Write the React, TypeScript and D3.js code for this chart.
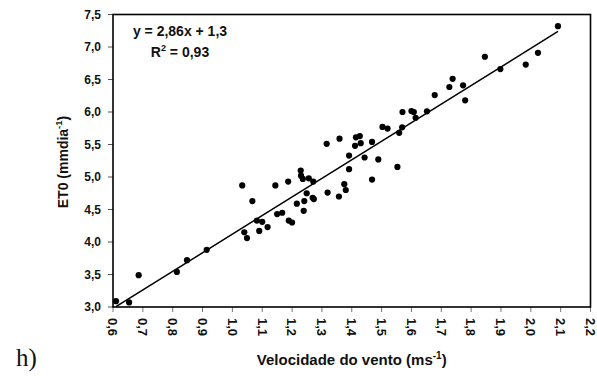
import React from "react";
import * as d3 from "d3";

// Wind speed (m/s) and reference evapotranspiration ET0 (mm/day)
const velocidade = [
  0.61, 0.654, 0.686, 0.814, 0.848, 0.914, 1.033, 1.04, 1.049, 1.067,
  1.082, 1.09, 1.1, 1.118, 1.144, 1.15, 1.167, 1.187, 1.189, 1.2,
  1.216, 1.229, 1.23, 1.236, 1.256, 1.271, 1.241, 1.249, 1.239, 1.269,
  1.273, 1.316, 1.319, 1.357, 1.359, 1.375, 1.38, 1.391, 1.391, 1.411,
  1.414, 1.427, 1.43, 1.443, 1.468, 1.489, 1.468, 1.503, 1.52, 1.553,
  1.559, 1.569, 1.57, 1.6, 1.608, 1.614, 1.652, 1.678, 1.727, 1.738,
  1.773, 1.78, 1.846, 1.898, 1.983, 2.024, 2.091,
];
const et0 = [
  3.09, 3.07, 3.49, 3.54, 3.72, 3.88, 4.87, 4.15, 4.06, 4.63,
  4.33, 4.17, 4.31, 4.23, 4.87, 4.43, 4.45, 4.93, 4.33, 4.3,
  4.59, 5.1, 5.02, 4.97, 4.98, 4.93, 4.63, 4.75, 4.48, 4.68,
  4.66, 5.51, 4.76, 4.7, 5.59, 4.89, 4.8, 5.33, 5.12, 5.48,
  5.61, 5.63, 5.52, 5.3, 5.54, 5.27, 4.96, 5.77, 5.745, 5.155,
  5.68, 5.765, 6.0, 6.015, 6.0, 5.91, 6.01, 6.26, 6.385, 6.51,
  6.41, 6.18, 6.85, 6.66, 6.73, 6.91, 7.32,
];

const xTicks = [0.6, 0.7, 0.8, 0.9, 1.0, 1.1, 1.2, 1.3, 1.4, 1.5, 1.6, 1.7, 1.8, 1.9, 2.0, 2.1, 2.2];
const yTicks = [3.0, 3.5, 4.0, 4.5, 5.0, 5.5, 6.0, 6.5, 7.0, 7.5];

// Linear fit ET0 = a * v + b
const slope = 2.86;
const intercept = 1.26;
const r2 = 0.93;

const W = 597;
const H = 376;
const plot = { left: 113, right: 590.5, top: 14.5, bottom: 307 };

const ptBR = d3.formatLocale({ decimal: ",", thousands: ".", grouping: [3], currency: ["R$", ""] });
const f1 = ptBR.format(".1f");
const f2 = ptBR.format(".2f");

const font = "'Liberation Sans', Arial, sans-serif";

export default function App() {
  const x = d3.scaleLinear().domain([0.6, 2.2]).range([plot.left, plot.right]);
  const y = d3.scaleLinear().domain([3, 7.5]).range([plot.bottom, plot.top]);

  const [vMin, vMax] = d3.extent(velocidade) as [number, number];
  const fitLine = d3
    .line<number>()
    .x((v) => x(v))
    .y((v) => y(slope * v + intercept));

  return (
    <svg
      width={W}
      height={H}
      style={{ position: "absolute", left: 0, top: 0, background: "#fff" }}
      fontFamily={font}
    >
      {/* y ticks and labels */}
      {yTicks.map((t) => (
        <g key={"y" + t}>
          <line x1={plot.left - 5} x2={plot.left} y1={y(t)} y2={y(t)} stroke="#555" strokeWidth={1} />
          <text
            x={plot.left - 12}
            y={y(t)}
            dy="0.36em"
            textAnchor="end"
            fontSize={12}
            fontWeight="bold"
            fill="#111"
          >
            {f1(t)}
          </text>
        </g>
      ))}

      {/* x ticks and rotated labels */}
      {xTicks.map((t) => (
        <g key={"x" + t}>
          <line x1={x(t)} x2={x(t)} y1={plot.bottom} y2={plot.bottom + 5} stroke="#777" strokeWidth={1} />
          <text
            transform={`translate(${x(t)},${plot.bottom + 11}) rotate(90)`}
            textAnchor="start"
            dy="0.36em"
            fontSize={13}
            fontWeight="bold"
            fill="#111"
          >
            {f1(t)}
          </text>
        </g>
      ))}

      {/* frame */}
      <rect
        x={plot.left}
        y={plot.top}
        width={plot.right - plot.left}
        height={plot.bottom - plot.top}
        fill="none"
        stroke="#000"
        strokeWidth={1.6}
      />

      {/* regression line */}
      <path d={fitLine([vMin, vMax]) ?? ""} fill="none" stroke="#000" strokeWidth={1.5} />

      {/* observations */}
      {velocidade.map((v, i) => (
        <circle key={i} cx={x(v)} cy={y(et0[i])} r={3.1} fill="#000" />
      ))}

      {/* equation */}
      <text x={180} y={36} textAnchor="middle" fontSize={14} fontWeight="bold" fill="#111">
        {`y = ${f2(slope)}x + ${f1(intercept)}`}
      </text>
      <text x={180} y={57} textAnchor="middle" fontSize={14} fontWeight="bold" fill="#111">
        R<tspan fontSize={9} dy={-6}>2</tspan>
        <tspan dy={6}>{` = ${f2(r2)}`}</tspan>
      </text>

      {/* axis titles */}
      <text
        x={(plot.left + plot.right) / 2}
        y={365}
        textAnchor="middle"
        fontSize={15}
        fontWeight="bold"
        fill="#111"
      >
        Velocidade do vento (ms<tspan fontSize={10} dy={-6}>-1</tspan>
        <tspan dy={6}>)</tspan>
      </text>
      <text
        transform={`translate(68,162) rotate(-90)`}
        textAnchor="middle"
        fontSize={14}
        fontWeight="bold"
        fill="#111"
      >
        ET0 (mmdia<tspan fontSize={9.5} dy={-6}>-1</tspan>
        <tspan dy={6}>)</tspan>
      </text>

      {/* panel letter */}
      <text x={16} y={366} fontFamily="'Liberation Serif', 'Times New Roman', serif" fontSize={25} fill="#111">
        h)
      </text>
    </svg>
  );
}
